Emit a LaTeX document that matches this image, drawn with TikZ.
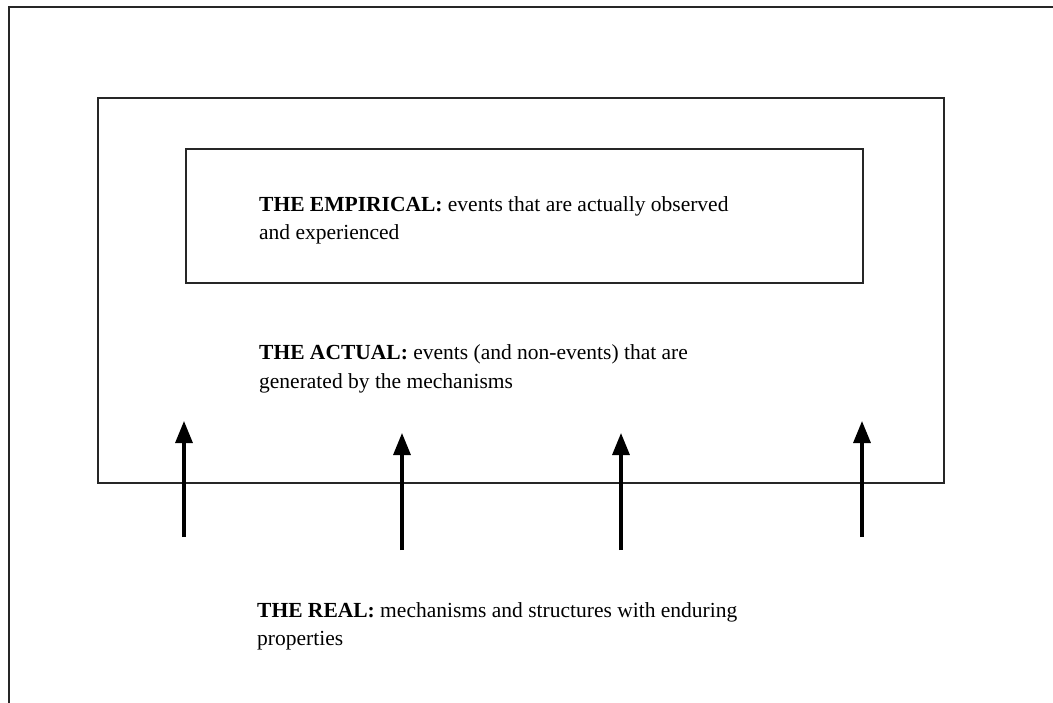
\documentclass[tikz,border=0pt]{standalone}
\usepackage{fontspec}
\setmainfont{Liberation Serif}
\usetikzlibrary{arrows.meta}
\begin{document}
\begin{tikzpicture}[x=1pt,y=-1pt,
  frame/.style={draw=black!85,line width=1.8pt},
  box/.style={draw=black!85,line width=1.8pt,inner sep=0pt,anchor=north west},
  label/.style={anchor=base west,inner sep=0pt,align=left,font=\fontsize{21.5}{28}\selectfont},
  upflow/.style={line width=3.2pt,-{Triangle[length=22pt,width=17pt]}}]
\useasboundingbox (0,0) rectangle (1053,703);
% outer frame: the real (open to the right and bottom)
\draw[frame] (9,703) -- (9,7) -- (1053,7);
% the actual
\node[box,minimum width=846pt,minimum height=385pt] (actualbox) at (97,97) {};
% the empirical
\node[box,minimum width=677pt,minimum height=134pt] (empiricalbox) at (185,148) {};
% labels (each placed at the baseline of its last line)
\node[label] (empirical) at (259,240) {\textbf{THE EMPIRICAL:} events that are actually observed\\and experienced};
\node[label,font=\fontsize{21.5}{29}\selectfont] (actual) at (259,389) {\textbf{THE ACTUAL:} events (and non-events) that are\\generated by the mechanisms};
\node[label] (real) at (257,645) {\textbf{THE REAL:} mechanisms and structures with enduring\\properties};
% mechanisms generating events
\coordinate (a1s) at (184,537); \coordinate (a1e) at (184,421);
\coordinate (a2s) at (402,550); \coordinate (a2e) at (402,433);
\coordinate (a3s) at (621,550); \coordinate (a3e) at (621,433);
\coordinate (a4s) at (862,537); \coordinate (a4e) at (862,421);
\draw[upflow] (a1s) -- (a1e);
\draw[upflow] (a2s) -- (a2e);
\draw[upflow] (a3s) -- (a3e);
\draw[upflow] (a4s) -- (a4e);
\end{tikzpicture}
\end{document}
